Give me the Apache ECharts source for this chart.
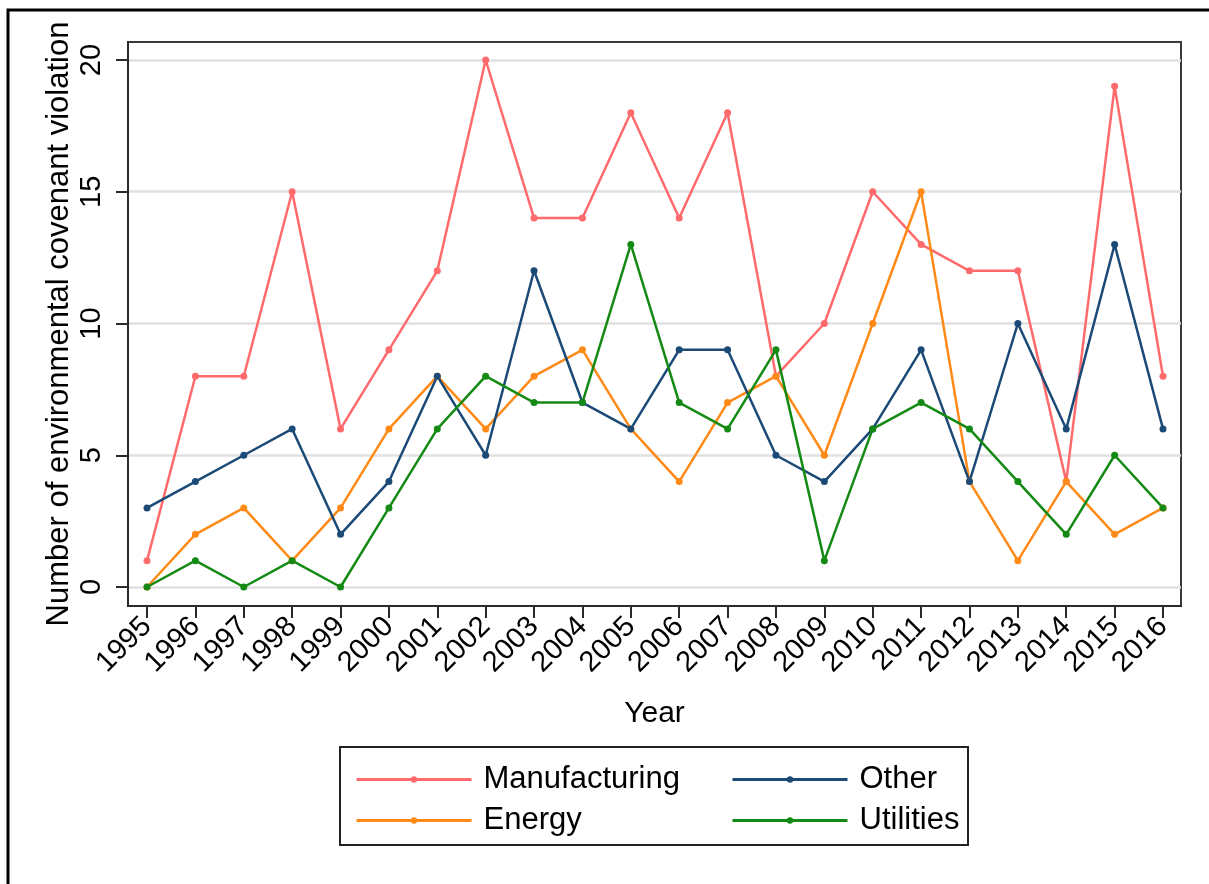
<!DOCTYPE html>
<html>
<head>
<meta charset="utf-8">
<script src="https://cdn.jsdelivr.net/npm/echarts@6/dist/echarts.min.js"></script>
<style>
  html, body { margin: 0; padding: 0; background: #fff; }
  #main { width: 1209px; height: 884px; }
</style>
</head>
<body>
<div id="main"></div>
<script>
const years = [1995, 1996, 1997, 1998, 1999, 2000, 2001, 2002, 2003, 2004, 2005,
  2006, 2007, 2008, 2009, 2010, 2011, 2012, 2013, 2014, 2015, 2016]
const manufacturing = [1, 8, 8, 15, 6, 9, 12, 20, 14, 14, 18, 14, 18, 8, 10, 15, 13, 12, 12, 4, 19, 8]
const other = [3, 4, 5, 6, 2, 4, 8, 5, 12, 7, 6, 9, 9, 5, 4, 6, 9, 4, 10, 6, 13, 6]
const energy = [0, 2, 3, 1, 3, 6, 8, 6, 8, 9, 6, 4, 7, 8, 5, 10, 15, 4, 1, 4, 2, 3]
const utilities = [0, 1, 0, 1, 0, 3, 6, 8, 7, 7, 13, 7, 6, 9, 1, 6, 7, 6, 4, 2, 5, 3]
const yTicks = [0, 5, 10, 15, 20]

const font = 'Liberation Sans, Arial, sans-serif'
const chart = echarts.init(document.getElementById('main'))

function line(name, values, color) {
  return {
    name,
    type: 'line',
    data: years.map((y, i) => [y, values[i]]),
    symbol: 'circle',
    symbolSize: 7,
    lineStyle: { width: 2.5, color },
    itemStyle: { color },
    emphasis: { disabled: true },
    animation: false
  }
}

const legendBase = {
  orient: 'vertical',
  itemWidth: 115,
  itemHeight: 8,
  itemGap: 10,
  lineStyle: { width: 3 },
  textStyle: { fontSize: 31, color: '#000', fontFamily: font, padding: [0, 0, 0, 7] },
  selectedMode: false
}

chart.setOption({
  backgroundColor: '#fff',
  animation: false,
  grid: {
    left: 128, right: 28, top: 42, bottom: 278,
    show: true, borderColor: '#3a3a3a', borderWidth: 2
  },
  xAxis: {
    type: 'value',
    min: 1994.607,
    max: 2016.372,
    name: 'Year',
    nameLocation: 'middle',
    nameGap: 93,
    nameMoveOverlap: false,
    nameTextStyle: { fontSize: 30, color: '#000', fontFamily: font },
    axisLine: { show: true, onZero: false, lineStyle: { color: '#2a2a2a', width: 2 } },
    axisTick: { show: true, length: 12, customValues: years, lineStyle: { color: '#2a2a2a', width: 2 } },
    axisLabel: {
      customValues: years, rotate: 45, margin: 16,
      formatter: v => String(v),
      fontSize: 29, color: '#000', fontFamily: font
    },
    splitLine: { show: false }
  },
  yAxis: {
    type: 'value',
    min: -0.721,
    max: 20.683,
    name: 'Number of environmental covenant violation',
    nameLocation: 'middle',
    nameGap: 53,
    nameMoveOverlap: false,
    nameTextStyle: { fontSize: 31, color: '#000', fontFamily: font },
    axisLine: { show: true, lineStyle: { color: '#2a2a2a', width: 2 } },
    axisTick: { show: true, length: 12, customValues: yTicks, lineStyle: { color: '#2a2a2a', width: 2 } },
    axisLabel: {
      customValues: yTicks, rotate: 90, margin: 22,
      fontSize: 29, color: '#000', fontFamily: font
    },
    splitLine: { show: true, lineStyle: { color: '#e1e1e1', width: 2.5 } }
  },
  legend: [
    Object.assign({}, legendBase, { left: 350, top: 759, data: ['Manufacturing', 'Energy'] }),
    Object.assign({}, legendBase, { left: 726, top: 759, data: ['Other', 'Utilities'] })
  ],
  graphic: [
    { type: 'rect', shape: { x: 8, y: 10, width: 1400, height: 1000 },
      style: { fill: 'none', stroke: '#000', lineWidth: 3 }, silent: true },
    { type: 'rect', shape: { x: 340, y: 747, width: 628, height: 98 },
      style: { fill: 'none', stroke: '#222', lineWidth: 2 }, silent: true }
  ],
  series: [
    line('Manufacturing', manufacturing, '#ff6a6c'),
    line('Energy', energy, '#ff8a17'),
    line('Other', other, '#1b4a77'),
    line('Utilities', utilities, '#148a14')
  ]
})
</script>
</body>
</html>
